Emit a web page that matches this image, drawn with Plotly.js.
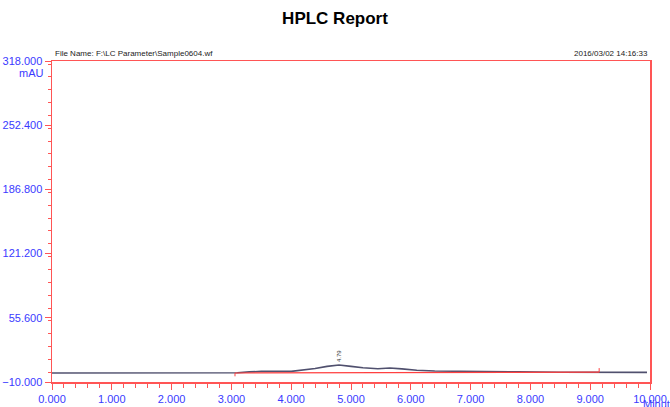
<!DOCTYPE html>
<html>
<head>
<meta charset="utf-8">
<script src="https://cdn.plot.ly/plotly-3.0.1.min.js"></script>
<style>html,body{margin:0;padding:0;background:#fff;}#chart{width:670px;height:407px;}</style>
</head>
<body>
<div id="chart"></div>
<script>
// Chromatogram signal (minutes, mAU)
const timeMin = [0, 3.0, 3.1, 3.3, 3.5, 4.0, 4.2, 4.4, 4.6, 4.8, 5.0, 5.2, 5.45, 5.65, 5.85, 6.1, 6.4, 7.0, 7.8, 8.5, 9.15, 9.2, 9.95];
const signalMAU = [-0.8, -0.8, -0.6, 0.3, 0.9, 0.9, 2.0, 3.8, 6.0, 7.4, 6.0, 4.5, 3.6, 4.3, 3.4, 2.0, 1.2, 0.6, 0.3, 0.0, -0.1, -0.2, -0.2];
// Integration baseline
const baseTime = [3.06, 9.15];
const baseMAU = [-0.8, 0.0];
const startTickMAU = [-0.8, -4.2];
const endTickMAU = [0.0, 4.2];
// Peak
const peakTime = [4.8];
const peakMAU = [7.4];
const peakLabels = ["4.79"];
// Axis
const yRange = [-10, 318];
const yStep = 65.6;
const xRange = [0, 10];
const fileName = "File Name: F:\\LC Parameter\\Sample0604.wf";
const stamp = "2016/03/02 14:16:33";

const red = "#ff5555";
const blue = "#3a3aff";
const font = "Liberation Sans, Arial, sans-serif";

const traces = [
  {x: timeMin, y: signalMAU, mode: "lines", line: {color: "#50506e", width: 1.6}, hoverinfo: "skip"},
  {x: baseTime, y: baseMAU, mode: "lines", line: {color: "#ff4040", width: 1.2}, hoverinfo: "skip"},
  {x: [baseTime[0], baseTime[0]], y: startTickMAU, mode: "lines", line: {color: "#ff4040", width: 1}, hoverinfo: "skip"},
  {x: [baseTime[1], baseTime[1]], y: endTickMAU, mode: "lines", line: {color: "#ff4040", width: 1}, hoverinfo: "skip"}
];

const annotations = [
  {text: fileName, xref: "paper", yref: "paper", x: 0, y: 1, xanchor: "left", yanchor: "bottom", xshift: 1, yshift: 1, showarrow: false, font: {family: font, size: 8, color: "#222"}},
  {text: stamp, xref: "paper", yref: "paper", x: 1, y: 1, xanchor: "right", yanchor: "bottom", yshift: 1, showarrow: false, font: {family: font, size: 8, color: "#222"}},
  {text: "mAU", xref: "paper", yref: "paper", x: 0, y: 1, xanchor: "right", yanchor: "top", xshift: -6, yshift: -4, showarrow: false, font: {family: font, size: 11, color: blue}},
  {text: "Minutes", xref: "paper", yref: "paper", x: 1, y: 0, xanchor: "left", yanchor: "top", xshift: -9, yshift: -14, showarrow: false, font: {family: font, size: 11, color: blue}}
];
peakTime.forEach((t, i) => {
  annotations.push({text: peakLabels[i], x: t, y: peakMAU[i], xref: "x", yref: "y", textangle: -90, yanchor: "bottom", yshift: 1, showarrow: false, font: {family: font, size: 6, color: "#333"}});
});

const layout = {
  width: 670, height: 407,
  margin: {l: 52, r: 20, t: 61, b: 25, pad: 0},
  paper_bgcolor: "#fff", plot_bgcolor: "#fff",
  showlegend: false,
  title: {text: "<b>HPLC Report</b>", xref: "container", yref: "container", x: 0.5, y: 0.955, xanchor: "center", yanchor: "middle", font: {family: font, size: 17, color: "#000"}},
  xaxis: {
    range: xRange, tick0: 0, dtick: 1, tickformat: ".3f",
    showgrid: false, zeroline: false, showline: true, linecolor: red, linewidth: 1.5, mirror: true,
    ticks: "outside", ticklen: 6, tickcolor: red, tickwidth: 1,
    minor: {dtick: 0.2, ticks: "outside", ticklen: 4, tickcolor: red, showgrid: false},
    tickfont: {family: font, size: 11, color: blue}
  },
  yaxis: {
    range: yRange, tick0: -10, dtick: yStep, tickformat: ".3f",
    showgrid: false, zeroline: false, showline: true, linecolor: red, linewidth: 1.5, mirror: true,
    ticks: "outside", ticklen: 6, tickcolor: red, tickwidth: 1,
    minor: {dtick: yStep / 5, ticks: "outside", ticklen: 3, tickcolor: red, showgrid: false},
    tickfont: {family: font, size: 11, color: blue}
  },
  annotations: annotations
};

Plotly.newPlot("chart", traces, layout, {staticPlot: true, displayModeBar: false});
</script>
</body>
</html>
